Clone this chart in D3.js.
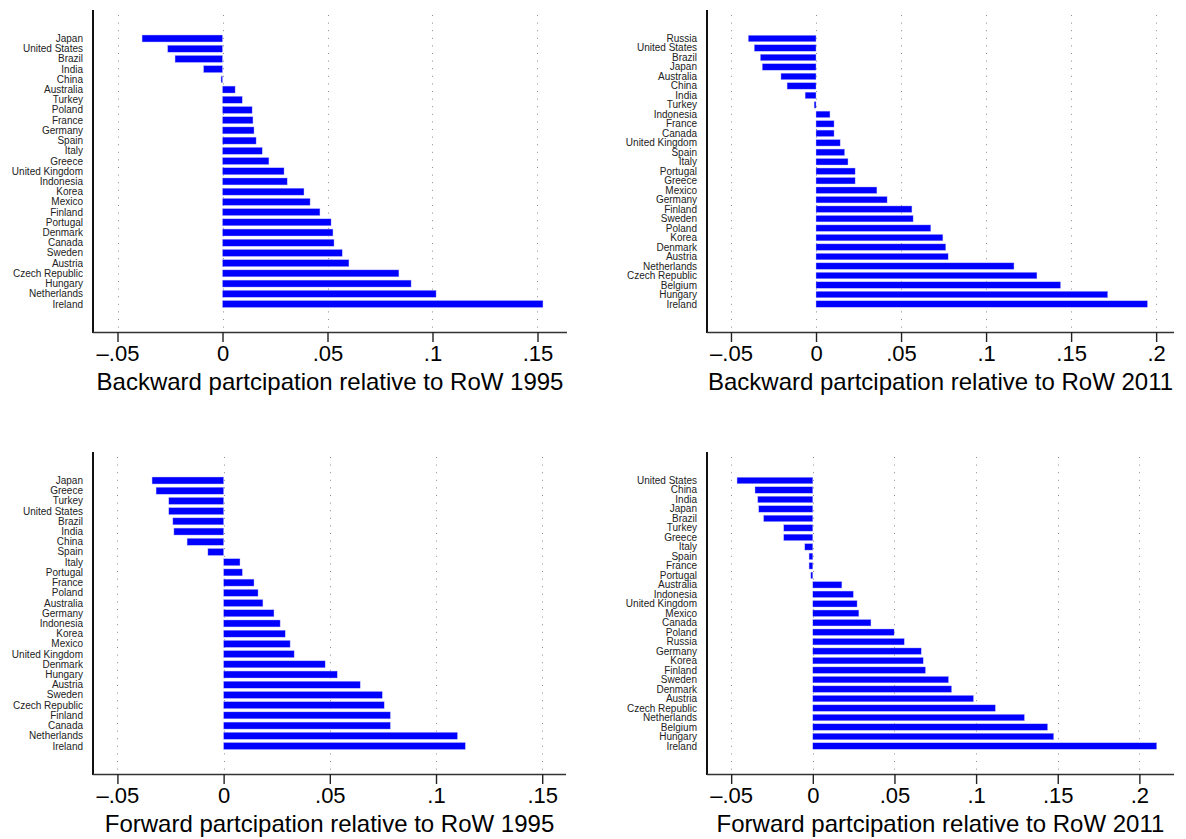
<!DOCTYPE html>
<html>
<head>
<meta charset="utf-8">
<script src="https://cdn.jsdelivr.net/npm/d3@7"></script>
<style>
  html, body { margin: 0; padding: 0; background: #fff; }
  svg { display: block; font-family: "Liberation Sans", Arial, Helvetica, sans-serif; }
</style>
</head>
<body>
<svg id="chart" width="1186" height="839"></svg>
<script>
// Backward participation, 1995
const backward1995Countries = ["Japan", "United States", "Brazil", "India", "China", "Australia", "Turkey", "Poland", "France", "Germany", "Spain", "Italy", "Greece", "United Kingdom", "Indonesia", "Korea", "Mexico", "Finland", "Portugal", "Denmark", "Canada", "Sweden", "Austria", "Czech Republic", "Hungary", "Netherlands", "Ireland"];
const backward1995Values = [-0.0383, -0.0261, -0.0226, -0.0090, -0.0007, 0.0060, 0.0094, 0.0141, 0.0145, 0.0150, 0.0160, 0.0189, 0.0221, 0.0293, 0.0308, 0.0388, 0.0417, 0.0464, 0.0517, 0.0526, 0.0531, 0.0570, 0.0602, 0.0840, 0.0898, 0.1017, 0.1526];

// Backward participation, 2011
const backward2011Countries = ["Russia", "United States", "Brazil", "Japan", "Australia", "China", "India", "Turkey", "Indonesia", "France", "Canada", "United Kingdom", "Spain", "Italy", "Portugal", "Greece", "Mexico", "Germany", "Finland", "Sweden", "Poland", "Korea", "Denmark", "Austria", "Netherlands", "Czech Republic", "Belgium", "Hungary", "Ireland"];
const backward2011Values = [-0.0398, -0.0363, -0.0327, -0.0316, -0.0206, -0.0170, -0.0064, -0.0011, 0.0082, 0.0106, 0.0106, 0.0142, 0.0168, 0.0188, 0.0230, 0.0230, 0.0358, 0.0418, 0.0564, 0.0571, 0.0675, 0.0746, 0.0763, 0.0777, 0.1164, 0.1299, 0.1438, 0.1715, 0.1949];

// Forward participation, 1995
const forward1995Countries = ["Japan", "Greece", "Turkey", "United States", "Brazil", "India", "China", "Spain", "Italy", "Portugal", "France", "Poland", "Australia", "Germany", "Indonesia", "Korea", "Mexico", "United Kingdom", "Denmark", "Hungary", "Austria", "Sweden", "Czech Republic", "Finland", "Canada", "Netherlands", "Ireland"];
const forward1995Values = [-0.0337, -0.0318, -0.0258, -0.0258, -0.0239, -0.0234, -0.0172, -0.0074, 0.0077, 0.0088, 0.0143, 0.0162, 0.0185, 0.0237, 0.0266, 0.0290, 0.0313, 0.0332, 0.0478, 0.0535, 0.0643, 0.0747, 0.0756, 0.0785, 0.0785, 0.1101, 0.1138];

// Forward participation, 2011
const forward2011Countries = ["United States", "China", "India", "Japan", "Brazil", "Turkey", "Greece", "Italy", "Spain", "France", "Portugal", "Australia", "Indonesia", "United Kingdom", "Mexico", "Canada", "Poland", "Russia", "Germany", "Korea", "Finland", "Sweden", "Denmark", "Austria", "Czech Republic", "Netherlands", "Belgium", "Hungary", "Ireland"];
const forward2011Values = [-0.0464, -0.0354, -0.0337, -0.0331, -0.0301, -0.0178, -0.0178, -0.0049, -0.0023, -0.0023, -0.0012, 0.0178, 0.0248, 0.0271, 0.0282, 0.0356, 0.0498, 0.0560, 0.0664, 0.0676, 0.0690, 0.0831, 0.0850, 0.0984, 0.1118, 0.1296, 0.1438, 0.1475, 0.2106];

// Axis ticks
const ticks1995 = [-0.05, 0, 0.05, 0.1, 0.15];
const tickLabels1995 = ["\u2013.05", "0", ".05", ".1", ".15"];
const ticks2011 = [-0.05, 0, 0.05, 0.1, 0.15, 0.2];
const tickLabels2011 = ["\u2013.05", "0", ".05", ".1", ".15", ".2"];

const titles = [
  "Backward partcipation relative to RoW 1995",
  "Backward partcipation relative to RoW 2011",
  "Forward partcipation relative to RoW 1995",
  "Forward partcipation relative to RoW 2011"
];

const panels = [
  { countries: backward1995Countries, values: backward1995Values, ticks: ticks1995, labels: tickLabels1995, title: titles[0],
    left: 93, right: 567, top: 10, bottom: 332, domain: [-0.06167, 0.16405] },
  { countries: backward2011Countries, values: backward2011Values, ticks: ticks2011, labels: tickLabels2011, title: titles[1],
    left: 707, right: 1174, top: 10, bottom: 332, domain: [-0.0641, 0.2105] },
  { countries: forward1995Countries, values: forward1995Values, ticks: ticks1995, labels: tickLabels1995, title: titles[2],
    left: 93, right: 566, top: 452, bottom: 774, domain: [-0.0615, 0.1612] },
  { countries: forward2011Countries, values: forward2011Values, ticks: ticks2011, labels: tickLabels2011, title: titles[3],
    left: 707, right: 1174, top: 452, bottom: 774, domain: [-0.0648, 0.2212] }
];

const svg = d3.select("#chart");
svg.append("rect").attr("width", 1186).attr("height", 839).attr("fill", "#fff");

panels.forEach(p => {
  const g = svg.append("g");
  const rows = p.countries.map((c, i) => ({ country: c, value: p.values[i] }));

  const x = d3.scaleLinear().domain(p.domain).range([p.left, p.right]);
  const y = d3.scalePoint().domain(p.countries).range([p.top + 28.5, p.bottom - 28]);
  const barH = y.step() * 0.68;

  // dotted vertical grid at each tick
  g.append("g").selectAll("line").data(p.ticks).join("line")
    .attr("x1", d => Math.round(x(d)) + 0.5).attr("x2", d => Math.round(x(d)) + 0.5)
    .attr("y1", p.top + 5).attr("y2", p.bottom - 2)
    .attr("stroke", "#8a8a8a").attr("stroke-width", 1)
    .attr("stroke-dasharray", "1,6.6");

  // bars
  g.append("g").selectAll("rect").data(rows).join("rect")
    .attr("x", d => x(Math.min(0, d.value)))
    .attr("width", d => Math.abs(x(d.value) - x(0)))
    .attr("y", d => y(d.country) - barH / 2)
    .attr("height", barH)
    .attr("fill", "#0000ff")
    .attr("stroke", "#b4b4ff").attr("stroke-width", 0.4);

  // category labels
  g.append("g").selectAll("text").data(rows).join("text")
    .attr("x", p.left - 10)
    .attr("y", d => y(d.country))
    .attr("dy", "0.35em")
    .attr("text-anchor", "end")
    .attr("font-size", 10)
    .attr("fill", "#222")
    .text(d => d.country);

  // y axis line
  g.append("line")
    .attr("x1", p.left).attr("x2", p.left)
    .attr("y1", p.top).attr("y2", p.bottom + 1)
    .attr("stroke", "#111").attr("stroke-width", 2);

  // x axis
  const xAxis = d3.axisBottom(x)
    .tickValues(p.ticks)
    .tickFormat((d, i) => p.labels[i])
    .tickSize(10)
    .tickPadding(3);
  const ax = g.append("g").attr("transform", `translate(0,${p.bottom})`).call(xAxis);
  ax.select(".domain").attr("d", `M${p.left},0.5H${p.right}`).attr("stroke", "#333").attr("stroke-width", 1.6);
  ax.selectAll(".tick line").attr("stroke", "#222").attr("stroke-width", 1.4);
  ax.selectAll(".tick text")
    .attr("font-size", 22)
    .attr("font-family", "\"Liberation Sans\", Arial, sans-serif")
    .attr("fill", "#000");

  // axis title
  g.append("text")
    .attr("x", (p.left + p.right) / 2)
    .attr("y", p.bottom + 58)
    .attr("text-anchor", "middle")
    .attr("font-size", 24)
    .attr("fill", "#000")
    .text(p.title);
});
</script>
</body>
</html>
